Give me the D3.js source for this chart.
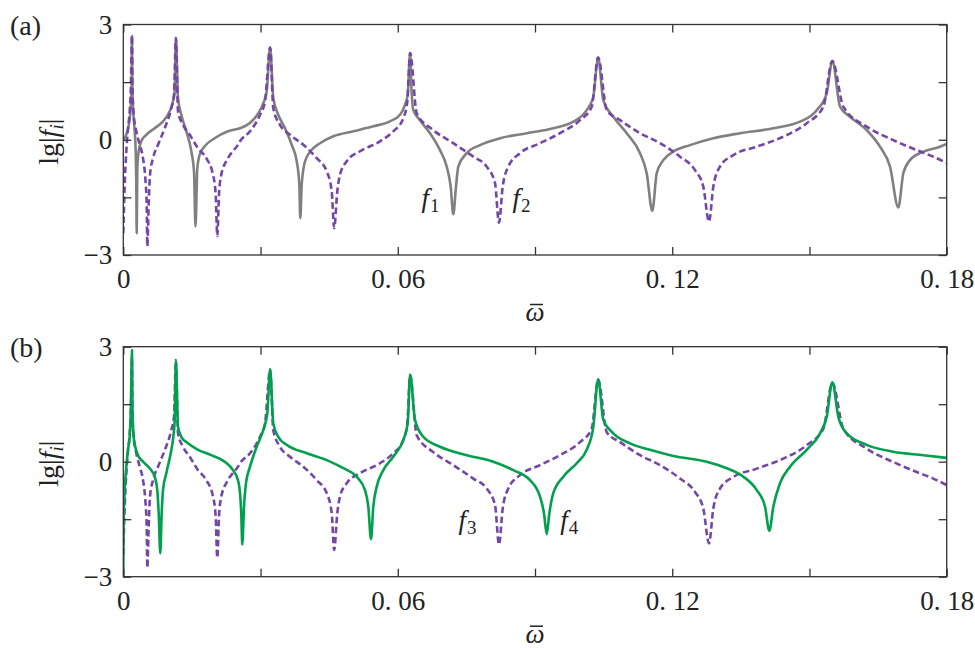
<!DOCTYPE html>
<html>
<head>
<meta charset="utf-8">
<script src="https://cdn.jsdelivr.net/npm/d3@7"></script>
<style>
  body { margin: 0; background: #fff; }
  svg { display: block; }
  text { font-family: "Liberation Serif", "DejaVu Serif", serif; fill: #222; }
</style>
</head>
<body>
<svg width="975" height="648"></svg>
<script>
// frequency axis ticks and level axis ticks
const xTicks = [0, 0.03, 0.06, 0.09, 0.12, 0.15, 0.18];
const xLabeled = [0, 0.06, 0.12, 0.18];
const yTicks = [-3, -1.5, 0, 1.5, 3];
const yLabeled = [-3, 0, 3];

// f1: grey solid, panel (a)   [omega, lg|f|]
const f1 = [
  [0, 0.0], [0.0007, 0.15], [0.0013, 0.45], [0.0016, 0.8], [0.0018, 1.3], [0.0019, 2.7],
  [0.0020, 1.3], [0.00227, 0.57], [0.00249, 0.22], [0.00271, -0.30], [0.00284, -1.17], [0.00293, -2.43],
  [0.00306, -0.74], [0.00337, -0.30], [0.00393, -0.04], [0.00503, 0.13], [0.00686, 0.30], [0.00868, 0.48],
  [0.01014, 0.74], [0.01086, 1.0], [0.01124, 1.26], [0.0115, 2.65],
  [0.01196, 1.09], [0.01268, 0.65], [0.01377, 0.22], [0.01487, -0.30], [0.01546, -0.82], [0.01578, -2.26],
  [0.01618, -0.74], [0.01670, -0.39], [0.01780, -0.17], [0.01998, 0.04], [0.02289, 0.22], [0.02551, 0.30],
  [0.0276, 0.43], [0.02951, 0.69], [0.03061, 0.95], [0.03135, 1.26], [0.0321, 2.40],
  [0.03279, 1.09], [0.03388, 0.65], [0.03535, 0.30], [0.03681, -0.13], [0.03791, -0.56], [0.03848, -1.17],
  [0.03869, -2.04], [0.03900, -1.17], [0.03972, -0.56], [0.04119, -0.26], [0.04300, -0.09], [0.04591, 0.09],
  [0.05028, 0.22], [0.05465, 0.35], [0.05830, 0.48], [0.06049, 0.65], [0.06158, 0.91], [0.06217, 1.17], [0.0627, 2.26],
  [0.0630, 1.3], [0.06340, 0.77], [0.06486, 0.51], [0.06705, 0.17], [0.06923, -0.27], [0.07070, -0.70], [0.07157, -1.22],
  [0.07214, -1.94], [0.07273, -1.22], [0.07323, -0.70], [0.07507, -0.35], [0.07798, -0.14], [0.08235, 0.04],
  [0.08819, 0.17], [0.09400, 0.30], [0.09837, 0.47], [0.10130, 0.77], [0.10275, 1.12], [0.1038, 2.14],
  [0.10493, 1.03], [0.10712, 0.60], [0.11005, 0.17], [0.11296, -0.35], [0.11442, -0.87], [0.11564, -1.85],
  [0.11661, -0.87], [0.11805, -0.53], [0.12024, -0.31], [0.12389, -0.14], [0.12898, 0.04], [0.13482, 0.17],
  [0.14210, 0.30], [0.14793, 0.47], [0.15158, 0.77], [0.15377, 1.21], [0.1550, 2.05],
  [0.15668, 0.86], [0.15886, 0.60], [0.16251, 0.25], [0.16542, -0.18], [0.16761, -0.70], [0.16942, -1.76],
  [0.17052, -0.87], [0.17198, -0.53], [0.17489, -0.31], [0.17854, -0.18], [0.18, -0.11]
];

// f2: purple dashed, panel (a)
const f2 = [
  [0, -2.43], [0.00031, -1.17], [0.00066, -0.30], [0.00103, 0.30], [0.00140, 0.74], [0.00164, 1.3], [0.0019, 2.71],
  [0.0020, 1.3], [0.00227, 0.65], [0.00284, 0.22], [0.00359, -0.13], [0.00431, -0.48], [0.00481, -1.0], [0.00512, -1.69],
  [0.00525, -2.77], [0.00555, -1.69], [0.00584, -0.91], [0.00649, -0.48], [0.00759, -0.13], [0.00905, 0.30],
  [0.01049, 0.82], [0.01108, 1.17], [0.0115, 2.65],
  [0.01196, 0.74], [0.01305, 0.39], [0.01452, 0.13], [0.01633, -0.22], [0.01814, -0.48], [0.01961, -0.91],
  [0.02020, -1.43], [0.02055, -2.51], [0.02092, -1.43], [0.02142, -0.91], [0.02289, -0.48], [0.02507, -0.13],
  [0.02551, -0.04], [0.02770, 0.22], [0.02989, 0.65], [0.03098, 1.0], [0.0321, 2.40],
  [0.03279, 0.82], [0.03425, 0.39], [0.03644, 0.13], [0.03935, -0.13], [0.04228, -0.48], [0.04447, -0.82],
  [0.04556, -1.34], [0.0461, -2.30], [0.04678, -1.34], [0.04737, -0.91], [0.04884, -0.56], [0.05175, -0.30],
  [0.05612, -0.04], [0.05902, 0.22], [0.06121, 0.56], [0.06209, 1.0], [0.0627, 2.26],
  [0.06414, 0.69], [0.06777, 0.25], [0.07214, -0.09], [0.07651, -0.44], [0.07944, -0.70], [0.08126, -1.13],
  [0.08213, -2.16], [0.08294, -1.22], [0.08416, -0.70], [0.08672, -0.35], [0.09109, -0.09], [0.09546, 0.17],
  [0.09984, 0.51], [0.10240, 0.86], [0.1038, 2.14],
  [0.10568, 0.77], [0.10859, 0.51], [0.11296, 0.17], [0.11733, -0.09], [0.12170, -0.44], [0.12498, -0.79],
  [0.12679, -1.22], [0.12804, -2.13], [0.12898, -1.22], [0.13044, -0.70], [0.13335, -0.40], [0.13847, -0.18],
  [0.14428, 0.08], [0.14940, 0.43], [0.15303, 0.86], [0.1550, 2.05],
  [0.15740, 0.86], [0.16251, 0.34], [0.16833, -0.01], [0.17344, -0.27], [0.17707, -0.44], [0.18, -0.61]
];

// f3: purple dashed in panel (b), same curve as f2
const f3 = f2;

// f4: green solid, panel (b)
const f4 = [
  [0, -3.0], [0.00007, -1.61], [0.00031, -0.74], [0.00066, -0.13], [0.00103, 0.31], [0.00140, 0.65], [0.00165, 1.3], [0.0019, 2.91],
  [0.0020, 1.3], [0.00227, 0.65], [0.00262, 0.39], [0.00321, 0.17], [0.00431, 0.0], [0.00577, -0.17], [0.00686, -0.39],
  [0.00743, -0.74], [0.00774, -1.35], [0.00809, -2.39], [0.00839, -1.35], [0.00868, -0.74], [0.00940, -0.30],
  [0.01036, 0.22], [0.01093, 0.65], [0.01124, 1.09], [0.0115, 2.63],
  [0.01196, 0.91], [0.01268, 0.65], [0.01414, 0.48], [0.01633, 0.31], [0.01924, 0.17], [0.02217, 0.0],
  [0.02398, -0.22], [0.02507, -0.48], [0.02558, -0.91], [0.0258, -1.4], [0.02601, -2.16], [0.02639, -1.17],
  [0.02682, -0.56], [0.02770, -0.13], [0.02916, 0.39], [0.03061, 0.83], [0.03148, 1.26], [0.0321, 2.41],
  [0.03279, 1.0], [0.03388, 0.65], [0.03572, 0.44], [0.04009, 0.22], [0.04447, 0.04], [0.04809, -0.17],
  [0.05102, -0.39], [0.05284, -0.74], [0.05356, -1.17], [0.05415, -2.02], [0.05465, -1.17], [0.05540, -0.65],
  [0.05684, -0.22], [0.05902, 0.13], [0.06121, 0.57], [0.06217, 1.0], [0.0627, 2.27],
  [0.06377, 1.09], [0.06558, 0.65], [0.06923, 0.39], [0.07507, 0.17], [0.08088, 0.0], [0.08526, -0.22],
  [0.08891, -0.48], [0.09109, -0.91], [0.09197, -1.35], [0.09256, -1.89], [0.09313, -1.35], [0.09400, -0.82],
  [0.09619, -0.39], [0.09912, -0.04], [0.10130, 0.31], [0.10275, 0.91], [0.1038, 2.15],
  [0.10493, 1.09], [0.10712, 0.74], [0.11077, 0.48], [0.11514, 0.31], [0.12024, 0.15], [0.12754, 0.0],
  [0.13191, -0.17], [0.13554, -0.39], [0.13847, -0.74], [0.14028, -1.17], [0.14122, -1.80], [0.14210, -1.17],
  [0.14356, -0.56], [0.14575, -0.13], [0.14940, 0.31], [0.15231, 0.74], [0.15377, 1.17], [0.1550, 2.07],
  [0.15631, 1.17], [0.15814, 0.74], [0.16251, 0.44], [0.16833, 0.26], [0.17489, 0.17], [0.18, 0.10]
];

const grey = '#808080';
const purple = '#7446a6';
const green = '#00a04f';

const svg = d3.select('svg');

const left = 123.3, right = 946.7;
const x = d3.scaleLinear().domain([0, 0.18]).range([left, right]);

const fmtX = d => xLabeled.some(v => Math.abs(v - d) < 1e-9) ? (d === 0 ? '0' : d3.format('.2f')(d).replace('.', '. ')) : '';
const fmtY = d => yLabeled.includes(d) ? (d < 0 ? '\u2212' + Math.abs(d) : String(d)) : '';

function drawPanel(top, bottom, tag, series, labels, clipId) {
    const y = d3.scaleLinear().domain([-3, 3]).range([bottom, top]);
    const g = svg.append('g');

    g.append('clipPath').attr('id', clipId)
        .append('rect')
        .attr('x', left).attr('y', top)
        .attr('width', right - left).attr('height', bottom - top);

    const line = d3.line()
        .x(d => x(d[0]))
        .y(d => y(d[1]))
        .curve(d3.curveMonotoneX);

    const plot = g.append('g').attr('clip-path', `url(#${clipId})`);
    series.forEach(s => {
        plot.append('path')
            .attr('d', line(s.data))
            .attr('fill', 'none')
            .attr('stroke', s.color)
            .attr('stroke-width', 2.6)
            .attr('stroke-dasharray', s.dash ? '6.5,3.5' : null)
            .attr('stroke-linejoin', 'round');
    });

    // axes with inward ticks on all four sides
    const axB = g.append('g').attr('transform', `translate(0,${bottom})`)
        .call(d3.axisBottom(x).tickValues(xTicks).tickSizeInner(-8).tickSizeOuter(0).tickPadding(14).tickFormat(fmtX));
    const axT = g.append('g').attr('transform', `translate(0,${top})`)
        .call(d3.axisTop(x).tickValues(xTicks).tickSizeInner(-8).tickSizeOuter(0).tickFormat(''));
    const axL = g.append('g').attr('transform', `translate(${left},0)`)
        .call(d3.axisLeft(y).tickValues(yTicks).tickSizeInner(-8).tickSizeOuter(0).tickPadding(11).tickFormat(fmtY));
    const axR = g.append('g').attr('transform', `translate(${right},0)`)
        .call(d3.axisRight(y).tickValues(yTicks).tickSizeInner(-8).tickSizeOuter(0).tickFormat(''));

    [axB, axT, axL, axR].forEach(a => {
        a.select('.domain').remove();
        a.selectAll('line').attr('stroke', '#333').attr('stroke-width', 1.3);
        a.selectAll('text').attr('font-family', '"Liberation Serif", serif').attr('font-size', 27).attr('fill', '#222');
    });

    g.append('rect')
        .attr('x', left).attr('y', top)
        .attr('width', right - left).attr('height', bottom - top)
        .attr('fill', 'none').attr('stroke', '#333').attr('stroke-width', 1.3);

    // panel tag
    g.append('text').attr('x', 10).attr('y', top + 10)
        .attr('font-size', 28).text(tag);

    // y label lg|f_i|
    const yl = g.append('text')
        .attr('transform', `translate(58,${(top + bottom) / 2 + 2}) rotate(-90)`)
        .attr('text-anchor', 'middle')
        .attr('font-size', 28);
    yl.append('tspan').text('lg|');
    yl.append('tspan').attr('font-style', 'italic').text('f');
    yl.append('tspan').attr('font-style', 'italic').attr('font-size', 19).attr('dy', 5).text('i');
    yl.append('tspan').attr('dy', -5).text('|');

    // x label: omega with a bar
    const cx = (left + right) / 2;
    g.append('text').attr('x', cx).attr('y', bottom + 66)
        .attr('text-anchor', 'middle').attr('font-style', 'italic')
        .attr('font-size', 27).text('\u03c9');
    g.append('line')
        .attr('x1', cx - 5).attr('x2', cx + 8)
        .attr('y1', bottom + 49.5).attr('y2', bottom + 49.5)
        .attr('stroke', '#222').attr('stroke-width', 1.5);

    // curve labels
    labels.forEach(l => {
        const t = g.append('text').attr('x', x(l.at)).attr('y', y(l.v)).attr('font-size', 27);
        t.append('tspan').attr('font-style', 'italic').text('f');
        t.append('tspan').attr('font-size', 19).attr('dx', 1).attr('dy', 5).text(l.sub);
    });
}

drawPanel(24.5, 255, '(a)',
    [{ data: f1, color: grey, dash: false }, { data: f2, color: purple, dash: true }],
    [{ at: 0.0652, v: -1.75, sub: '1' }, { at: 0.0851, v: -1.75, sub: '2' }], 'clipA');

drawPanel(346.7, 576.7, '(b)',
    [{ data: f3, color: purple, dash: true }, { data: f4, color: green, dash: false }],
    [{ at: 0.0733, v: -1.75, sub: '3' }, { at: 0.0955, v: -1.75, sub: '4' }], 'clipB');
</script>
</body>
</html>
